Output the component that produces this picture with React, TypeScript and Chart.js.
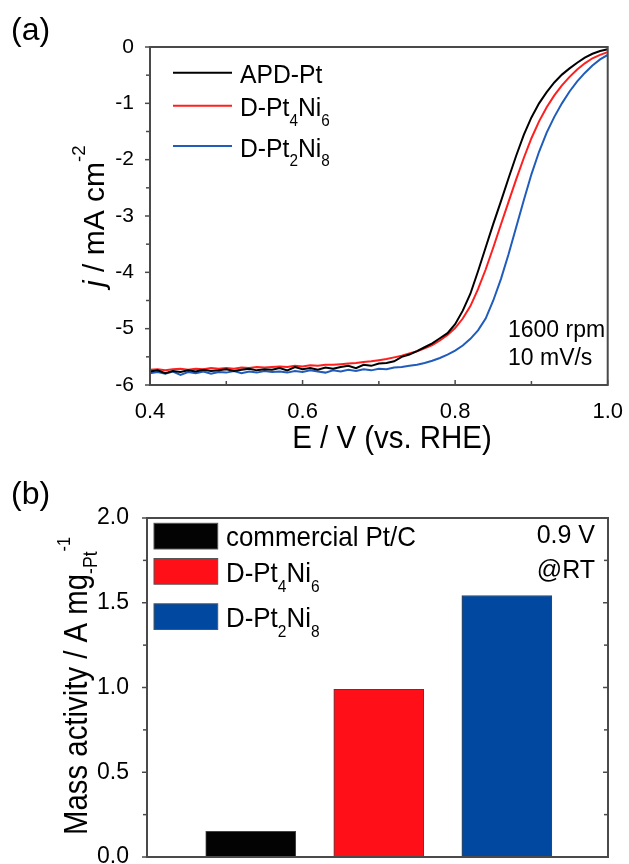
import React, { useEffect, useRef } from "react";
import Chart from "chart.js/auto";

// ---------- DATA (a) ----------
const potential = [
  0.40, 0.41, 0.42, 0.43, 0.44, 0.45, 0.46, 0.47, 0.48, 0.49,
  0.50, 0.51, 0.52, 0.53, 0.54, 0.55, 0.56, 0.57, 0.58, 0.59,
  0.60, 0.61, 0.62, 0.63, 0.64, 0.65, 0.66, 0.67, 0.68, 0.69,
  0.70, 0.71, 0.72, 0.73, 0.74, 0.75, 0.76, 0.77, 0.78, 0.79,
  0.80, 0.81, 0.82, 0.83, 0.84, 0.85, 0.86, 0.87, 0.88, 0.89,
  0.90, 0.91, 0.92, 0.93, 0.94, 0.95, 0.96, 0.97, 0.98, 0.99, 1.00,
];
const apdPt = [
  -5.76, -5.74, -5.79, -5.75, -5.77, -5.74, -5.76, -5.73, -5.75, -5.74,
  -5.72, -5.75, -5.73, -5.71, -5.74, -5.72, -5.73, -5.70, -5.74, -5.68,
  -5.72, -5.70, -5.73, -5.69, -5.71, -5.68, -5.66, -5.70, -5.64, -5.66,
  -5.62, -5.61, -5.58, -5.50, -5.46, -5.40, -5.33, -5.26, -5.17, -5.08,
  -4.92, -4.68, -4.38, -3.98, -3.56, -3.14, -2.74, -2.33, -1.93, -1.56,
  -1.25, -1.00, -0.80, -0.63, -0.49, -0.38, -0.28, -0.19, -0.12, -0.07, -0.04,
];
const dPt4Ni6 = [
  -5.73, -5.72, -5.74, -5.72, -5.71, -5.73, -5.71, -5.72, -5.70, -5.71,
  -5.70, -5.71, -5.69, -5.70, -5.68, -5.69, -5.68, -5.67, -5.68, -5.66,
  -5.67, -5.65, -5.66, -5.64, -5.64, -5.63, -5.62, -5.61, -5.59, -5.58,
  -5.56, -5.54, -5.51, -5.48, -5.44, -5.40, -5.35, -5.29, -5.21, -5.11,
  -4.99, -4.82, -4.60, -4.30, -3.95, -3.56, -3.15, -2.75, -2.35, -1.97,
  -1.62, -1.32, -1.07, -0.86, -0.68, -0.53, -0.40, -0.29, -0.20, -0.14, -0.09,
];
const dPt2Ni8 = [
  -5.79, -5.77, -5.80, -5.76, -5.82, -5.77, -5.79, -5.76, -5.80, -5.77,
  -5.78, -5.75, -5.79, -5.76, -5.78, -5.75, -5.77, -5.76, -5.78, -5.75,
  -5.77, -5.74, -5.76, -5.78, -5.74, -5.76, -5.73, -5.75, -5.72, -5.74,
  -5.71, -5.72, -5.69, -5.68, -5.66, -5.64, -5.61, -5.57, -5.52, -5.46,
  -5.39, -5.30, -5.18, -5.03, -4.82, -4.50, -4.12, -3.68, -3.20, -2.72,
  -2.26, -1.86, -1.52, -1.24, -1.00, -0.79, -0.61, -0.46, -0.33, -0.22, -0.14,
];
const seriesLabelsA = ["APD-Pt", "D-Pt_{4}Ni_{6}", "D-Pt_{2}Ni_{8}"];
const seriesColorsA = ["#000000", "#ff1f1f", "#1f5cbc"];
const xTicksA = [0.4, 0.6, 0.8, 1.0];
const yTicksA = [0, -1, -2, -3, -4, -5, -6];
const conditionsA = ["1600 rpm", "10 mV/s"];

// ---------- DATA (b) ----------
const catalysts = ["commercial Pt/C", "D-Pt_{4}Ni_{6}", "D-Pt_{2}Ni_{8}"];
const barPositions = [1, 2, 3];
const massActivity = [0.152, 0.989, 1.543];
const barColors = ["#030303", "#ff0f17", "#0048a0"];
const yTicksB = [0, 0.5, 1.0, 1.5, 2.0];
const conditionsB = ["0.9 V", "@RT"];

const FONT = '"Liberation Sans", Arial, sans-serif';

type Seg = { t: string; k: "n" | "sub" | "sup"; it?: boolean };
function parseRich(s: string): Seg[] {
  const segs: Seg[] = [];
  const re = /([_^])\{([^}]*)\}|\*([^*]+)\*|([^_^*]+)/g;
  let m: RegExpExecArray | null;
  while ((m = re.exec(s))) {
    if (m[1]) segs.push({ t: m[2], k: m[1] === "_" ? "sub" : "sup" });
    else if (m[3]) segs.push({ t: m[3], k: "n", it: true });
    else segs.push({ t: m[4], k: "n" });
  }
  return segs;
}

type RichOpts = {
  size: number;
  align?: "left" | "center" | "right";
  rotate?: boolean;
  squeeze?: number;
  color?: string;
  subScale?: number;
  subShift?: number;
  supScale?: number;
  supShift?: number;
};
function drawRich(ctx: CanvasRenderingContext2D, text: string, x: number, y: number, o: RichOpts) {
  const segs = parseRich(text);
  const sz = o.size;
  const sq = o.squeeze ?? 1;
  const subScale = o.subScale ?? 0.62;
  const supScale = o.supScale ?? 0.62;
  const subShift = o.subShift ?? 0.35;
  const supShift = o.supShift ?? 0.55;
  const fontOf = (s: Seg) => {
    const size = s.k === "n" ? sz : s.k === "sub" ? sz * subScale : sz * supScale;
    return `${s.it ? "italic " : ""}${size.toFixed(1)}px ${FONT}`;
  };
  ctx.save();
  let total = 0;
  const widths = segs.map((s) => {
    ctx.font = fontOf(s);
    const w = ctx.measureText(s.t).width * sq;
    total += w;
    return w;
  });
  ctx.translate(x, y);
  if (o.rotate) ctx.rotate(-Math.PI / 2);
  let cx = o.align === "center" ? -total / 2 : o.align === "right" ? -total : 0;
  ctx.fillStyle = o.color ?? "#000";
  ctx.textBaseline = "alphabetic";
  ctx.textAlign = "left";
  segs.forEach((s, i) => {
    ctx.save();
    ctx.font = fontOf(s);
    const dy = s.k === "sub" ? sz * subShift : s.k === "sup" ? -sz * supShift : 0;
    ctx.translate(cx, dy);
    ctx.scale(sq, 1);
    ctx.fillText(s.t, 0, 0);
    ctx.restore();
    cx += widths[i];
  });
  ctx.restore();
}

const FRAME = "#4a4a4a";

function frame(ctx: CanvasRenderingContext2D, area: { left: number; right: number; top: number; bottom: number }) {
  ctx.save();
  ctx.strokeStyle = FRAME;
  ctx.lineWidth = 2;
  ctx.strokeRect(area.left, area.top, area.right - area.left, area.bottom - area.top);
  ctx.restore();
}

function tick(ctx: CanvasRenderingContext2D, x1: number, y1: number, x2: number, y2: number) {
  ctx.beginPath();
  ctx.moveTo(x1, y1);
  ctx.lineTo(x2, y2);
  ctx.stroke();
}

const decorA = {
  id: "decorA",
  afterDraw(chart: any) {
    const ctx: CanvasRenderingContext2D = chart.ctx;
    const a = chart.chartArea;
    const xs = chart.scales.x;
    const ys = chart.scales.y;
    frame(ctx, a);
    ctx.save();
    ctx.strokeStyle = FRAME;
    ctx.lineWidth = 1.5;
    for (let i = 0; i < xTicksA.length; i++) {
      const px = xs.getPixelForValue(xTicksA[i]);
      tick(ctx, px, a.bottom, px, a.bottom - 5);
      if (i < xTicksA.length - 1) {
        const pm = xs.getPixelForValue((xTicksA[i] + xTicksA[i + 1]) / 2);
        tick(ctx, pm, a.bottom, pm, a.bottom - 4);
      }
    }
    for (let i = 0; i < yTicksA.length; i++) {
      const py = ys.getPixelForValue(yTicksA[i]);
      tick(ctx, a.left, py, a.left - 5, py);
      if (i < yTicksA.length - 1) {
        const pm = ys.getPixelForValue((yTicksA[i] + yTicksA[i + 1]) / 2);
        tick(ctx, a.left, pm, a.left - 4, pm);
      }
    }
    ctx.restore();

    const lineY = [72.7, 105.7, 146];
    seriesLabelsA.forEach((lab, i) => {
      ctx.save();
      ctx.strokeStyle = seriesColorsA[i];
      ctx.lineWidth = 2;
      tick(ctx, 173, lineY[i], 232, lineY[i]);
      ctx.restore();
      drawRich(ctx, lab, 240, lineY[i] + 10.5, { size: 26, squeeze: 0.95, subScale: 0.62, subShift: 0.36 });
    });

    drawRich(ctx, conditionsA[0], 508, 337, { size: 23 });
    drawRich(ctx, conditionsA[1], 508, 364.5, { size: 23 });

    drawRich(ctx, "(a)", 11, 40, { size: 32 });

    drawRich(ctx, "E / V (vs. RHE)", 392, 448, { size: 31, align: "center", squeeze: 0.95 });
    drawRich(ctx, "*j* / mA cm^{-2}", 104, 287, { size: 30, rotate: true, supScale: 0.62, supShift: 0.62 });
  },
};

const decorB = {
  id: "decorB",
  afterDraw(chart: any) {
    const ctx: CanvasRenderingContext2D = chart.ctx;
    const a = chart.chartArea;
    const ys = chart.scales.y;
    frame(ctx, a);
    ctx.save();
    ctx.strokeStyle = FRAME;
    ctx.lineWidth = 1.5;
    for (let i = 0; i < yTicksB.length; i++) {
      const py = ys.getPixelForValue(yTicksB[i]);
      tick(ctx, a.left, py, a.left - 5, py);
      tick(ctx, a.right, py, a.right - 5, py);
      if (i < yTicksB.length - 1) {
        const pm = ys.getPixelForValue((yTicksB[i] + yTicksB[i + 1]) / 2);
        tick(ctx, a.left, pm, a.left - 4, pm);
        tick(ctx, a.right, pm, a.right - 4, pm);
      }
    }
    ctx.restore();

    const boxTop = [83.3, 118.5, 163.8];
    catalysts.forEach((lab, i) => {
      ctx.save();
      ctx.fillStyle = barColors[i];
      ctx.fillRect(154, boxTop[i], 63.7, 25.7);
      ctx.strokeStyle = "#555";
      ctx.lineWidth = 1;
      ctx.strokeRect(154, boxTop[i], 63.7, 25.7);
      ctx.restore();
      drawRich(ctx, lab, 226, boxTop[i] + 23, { size: 28, squeeze: 0.925, subScale: 0.6, subShift: 0.36 });
    });

    drawRich(ctx, conditionsB[0], 595, 103, { size: 25, align: "right" });
    drawRich(ctx, conditionsB[1], 595, 138, { size: 25, align: "right" });

    drawRich(ctx, "(b)", 11, 64, { size: 32 });

    drawRich(ctx, "Mass activity / A mg_{-Pt}^{-1}", 87, 395, {
      size: 33,
      rotate: true,
      squeeze: 0.89,
      subScale: 0.6,
      subShift: 0.3,
      supScale: 0.55,
      supShift: 0.52,
    });
  },
};

export default function App() {
  const refA = useRef<HTMLCanvasElement>(null);
  const refB = useRef<HTMLCanvasElement>(null);

  useEffect(() => {
    const chartA = new Chart(refA.current!, {
      type: "line",
      data: {
        datasets: [apdPt, dPt4Ni6, dPt2Ni8].map((ys, i) => ({
          label: seriesLabelsA[i],
          data: potential.map((x, j) => ({ x, y: ys[j] })),
          borderColor: seriesColorsA[i],
          borderWidth: 2,
          pointRadius: 0,
          tension: 0,
          fill: false,
        })),
      },
      options: {
        animation: false,
        responsive: false,
        devicePixelRatio: 1,
        layout: { padding: { top: 47, right: 19, left: 0, bottom: 0 } },
        plugins: { legend: { display: false }, tooltip: { enabled: false } },
        scales: {
          x: {
            type: "linear",
            min: 0.4,
            max: 1.0,
            offset: false,
            grid: { display: false },
            border: { display: false },
            afterBuildTicks: (s: any) => {
              s.ticks = xTicksA.map((v) => ({ value: v }));
            },
            afterFit: (s: any) => {
              s.height = 470 - 385;
            },
            ticks: {
              font: { family: FONT, size: 22 },
              color: "#000",
              padding: 6,
              maxRotation: 0,
              autoSkip: false,
              callback: (v: any) => Number(v).toFixed(1),
            },
          },
          y: {
            type: "linear",
            min: -6,
            max: 0,
            grid: { display: false },
            border: { display: false },
            afterBuildTicks: (s: any) => {
              s.ticks = yTicksA.map((v) => ({ value: v }));
            },
            afterFit: (s: any) => {
              s.width = 150;
            },
            ticks: {
              font: { family: FONT, size: 21 },
              color: "#000",
              padding: 8,
              autoSkip: false,
              callback: (v: any) => String(v),
            },
          },
        },
      },
      plugins: [decorA],
    } as any);

    const chartB = new Chart(refB.current!, {
      type: "bar",
      data: {
        datasets: catalysts.map((lab, i) => ({
          label: lab,
          data: [{ x: barPositions[i], y: massActivity[i] }],
          backgroundColor: barColors[i],
          borderColor: "#444",
          borderWidth: 1,
          borderSkipped: false,
          barThickness: 90,
          grouped: false,
        })),
      },
      options: {
        animation: false,
        responsive: false,
        devicePixelRatio: 1,
        layout: { padding: { top: 78, right: 21, left: 0, bottom: 0 } },
        plugins: { legend: { display: false }, tooltip: { enabled: false } },
        scales: {
          x: {
            type: "linear",
            min: 0.19,
            max: 3.79,
            offset: false,
            grid: { display: false, offset: false },
            border: { display: false },
            ticks: { display: false },
            afterFit: (s: any) => {
              s.height = 470 - 417;
            },
          },
          y: {
            type: "linear",
            min: 0,
            max: 2,
            grid: { display: false },
            border: { display: false },
            afterBuildTicks: (s: any) => {
              s.ticks = yTicksB.map((v) => ({ value: v }));
            },
            afterFit: (s: any) => {
              s.width = 147;
            },
            ticks: {
              font: { family: FONT, size: 23 },
              color: "#000",
              padding: 10,
              autoSkip: false,
              callback: (v: any) => Number(v).toFixed(1),
            },
          },
        },
      },
      plugins: [decorB],
    } as any);

    return () => {
      chartA.destroy();
      chartB.destroy();
    };
  }, []);

  return (
    <div style={{ position: "absolute", left: 0, top: 0, width: 629, height: 864, overflow: "hidden", background: "#fff" }}>
      <canvas ref={refA} width={629} height={470} style={{ position: "absolute", left: 0, top: 0, width: 629, height: 470 }} />
      <canvas ref={refB} width={629} height={470} style={{ position: "absolute", left: 0, top: 440, width: 629, height: 470 }} />
    </div>
  );
}
